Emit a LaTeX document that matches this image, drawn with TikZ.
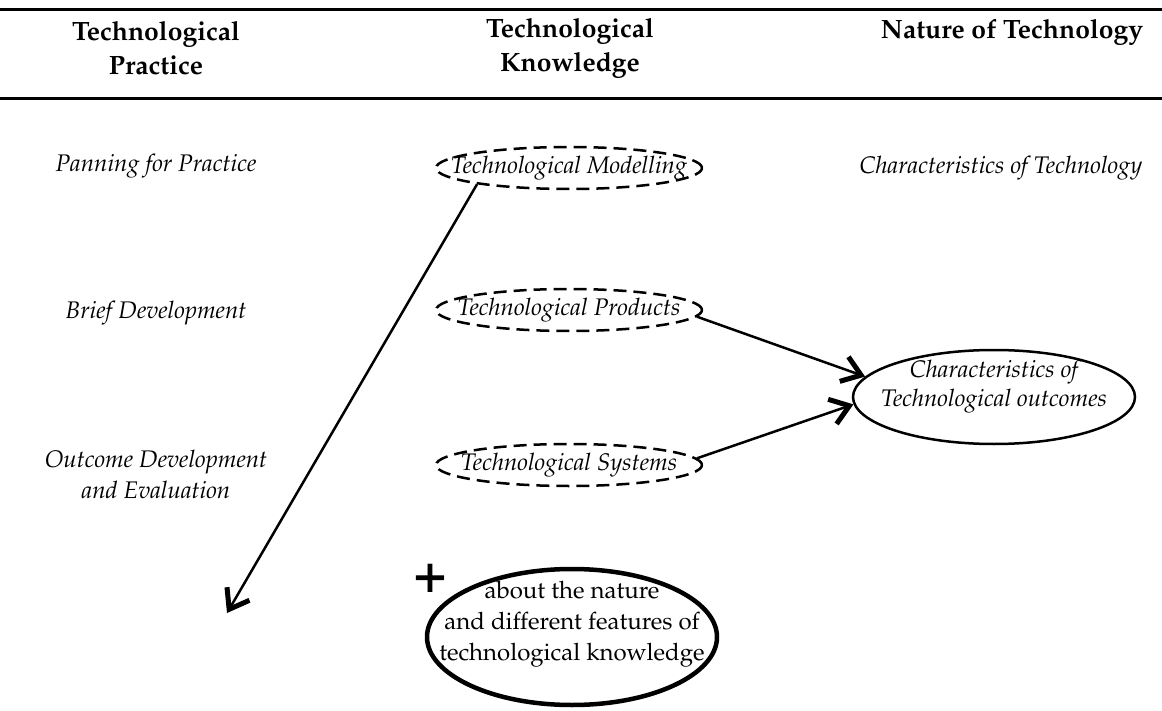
\documentclass[tikz,border=0pt]{standalone}
\usepackage[T1]{fontenc}
\usepackage{mathpazo}
\usetikzlibrary{arrows.meta,shapes.geometric}
\begin{document}
\begin{tikzpicture}[x=1pt,y=-1pt,
  hdr/.style={font=\fontsize{26.5}{34}\selectfont\bfseries, align=center, inner sep=0pt},
  lbl/.style={font=\fontsize{24}{31}\selectfont\itshape, align=center, inner sep=0pt},
  dashell/.style={ellipse, draw, line width=2.5pt, dash pattern=on 13pt off 7pt,
    minimum width=266pt, minimum height=42pt, inner sep=0pt,
    font=\fontsize{24}{31}\selectfont\itshape},
  solell/.style={ellipse, draw, line width=2.5pt, inner sep=0pt,
    minimum width=282pt, minimum height=94pt,
    font=\fontsize{24}{29}\selectfont\itshape},
  bigell/.style={ellipse, draw, line width=4.5pt, inner sep=0pt,
    minimum width=290pt, minimum height=136pt,
    font=\fontsize{24}{31}\selectfont},
  rulel/.style={line width=3pt},
  arr/.style={line width=2.5pt, -{Straight Barb[length=18pt,width=26pt,line width=5pt]}},
]
\useasboundingbox (0,0) rectangle (1162,711);
\coordinate (r1l) at (0,10);
\coordinate (r1r) at (1162,10);
\coordinate (r2l) at (0,99);
\coordinate (r2r) at (1162,99);
\draw[rulel] (r1l) -- (r1r);
\draw[rulel] (r2l) -- (r2r);

\node[hdr] (htp) at (156,48) {Technological\\Practice};
\node[hdr] (htk) at (570,48) {Technological\\Knowledge};
\node[hdr] (hnt) at (1012,32) {Nature of Technology};

\node[lbl] (pan) at (156,166) {Panning for Practice};
\node[lbl] (brief) at (156,313) {Brief Development};
\node[lbl] (outc) at (156,474) {Outcome Development\\and Evaluation};
\node[lbl] (chtech) at (1001,168) {Characteristics of Technology};

\node[dashell] (mod) at (569,168) {\makebox[0pt]{Technological Modelling}};
\node[dashell] (prod) at (569,310) {\makebox[0pt]{Technological Products}};
\node[dashell] (sys) at (569,465) {\makebox[0pt]{Technological Systems}};

\node[solell] (sol) at (994,397) {\makebox[0pt]{\raisebox{5pt}[0pt][0pt]{\begin{tabular}{@{}c@{}}Characteristics of\\Technological outcomes\end{tabular}}}};

\node[bigell] (big) at (572,637) {\makebox[0pt]{\raisebox{8pt}[0pt][0pt]{\begin{tabular}{@{}c@{}}about the nature\\and different features of\\technological knowledge\end{tabular}}}};

\node[font=\fontsize{56}{56}\selectfont\bfseries, inner sep=0pt] (plus) at (430,578) {+};

\coordinate (aend) at (227,613);
\draw[arr] (mod.190) -- (aend);
\draw[arr] (prod.-3) -- (sol.171);
\draw[arr] (sys.3) -- (sol.183);
\end{tikzpicture}
\end{document}
